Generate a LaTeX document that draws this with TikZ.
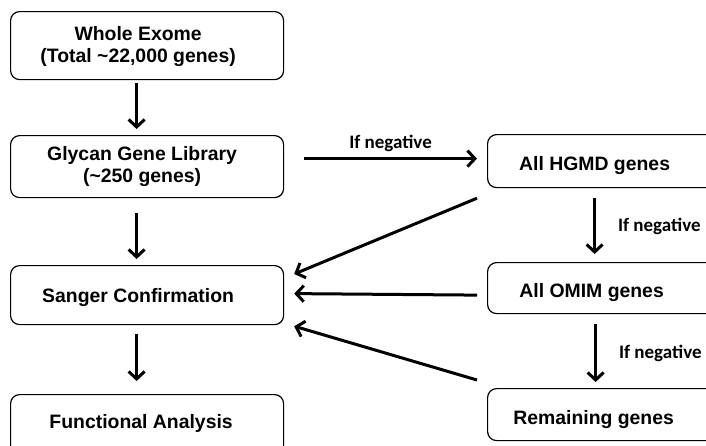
\documentclass[tikz,border=0pt]{standalone}
\usepackage{fontspec}
\setmainfont{Liberation Sans}
\newfontfamily\labelfont{Carlito}
\usetikzlibrary{arrows.meta}
\begin{document}
\begin{tikzpicture}[x=1pt,y=-1pt,
  box/.style={draw=black, line width=1.2pt, rounded corners=9pt, anchor=north west, inner sep=0pt},
  lbox/.style={box, minimum width=273pt},
  rbox/.style={box, minimum width=240pt},
  txt/.style={font=\fontsize{19.4}{22.5}\selectfont\bfseries, align=center, inner sep=0pt, text depth=0pt},
  arr/.style={line width=3pt, -{Straight Barb[length=7.5pt,width=16pt]}},
  neg/.style={font=\labelfont\fontsize{19}{22}\selectfont\bfseries, inner sep=0pt}]
\useasboundingbox (0,0) rectangle (706,445);
\clip (0,0) rectangle (706,445);

% left column
\node[lbox, minimum height=68pt, label={[txt, xshift=-9pt, yshift=1pt]center:{Whole Exome\\(Total \textasciitilde22,000 genes)}}] (we) at (10,11) {};
\node[lbox, minimum height=62pt, label={[txt, xshift=-5pt, yshift=2pt]center:{Glycan Gene Library\\(\textasciitilde250 genes)}}] (gl) at (10,135) {};
\node[lbox, minimum height=59pt, label={[txt, xshift=-9pt, yshift=0pt]center:{Sanger Confirmation}}] (sc) at (10,265) {};
\node[lbox, minimum height=60pt, label={[txt, xshift=-6pt, yshift=3pt]center:{Functional Analysis}}] (fa) at (10,394) {};

% right column
\node[rbox, minimum height=53pt, label={[txt, xshift=-13pt, yshift=-2pt]center:{All HGMD genes}}] (hgmd) at (487,134) {};
\node[rbox, minimum height=51pt, label={[txt, xshift=-16pt, yshift=-2pt]center:{All OMIM genes}}] (omim) at (487,262) {};
\node[rbox, minimum height=52pt, label={[txt, xshift=-14pt, yshift=-3pt]center:{Remaining genes}}] (rg) at (487,388) {};

% main chain
\draw[arr] ([xshift=-10.5pt,yshift=-3pt]we.south) -- ([xshift=-10.5pt,yshift=6pt]gl.north);
\draw[arr] ([xshift=-10.5pt,yshift=-15pt]gl.south) -- ([xshift=-10.5pt,yshift=6pt]sc.north);
\draw[arr] ([xshift=-10.5pt,yshift=-9pt]sc.south) -- ([xshift=-10.5pt,yshift=13pt]fa.north);

% fallback chain
\draw[arr] ([xshift=20pt,yshift=2.5pt]gl.east |- hgmd.west) -- ([xshift=-10pt,yshift=2.5pt]hgmd.west)
  node[neg, midway, above=5pt] (n1) {If negative};
\draw[arr] ([xshift=-13pt,yshift=-10pt]hgmd.south) -- ([xshift=-13pt,yshift=8pt]omim.north)
  node[neg, midway, right=22pt] (n2) {If negative};
\draw[arr] ([xshift=-12pt,yshift=-10pt]omim.south) -- ([xshift=-12pt,yshift=6pt]rg.north)
  node[neg, midway, right=22pt] (n3) {If negative};

% positive results back to confirmation
\draw[arr] ([xshift=-10pt,yshift=-10pt]hgmd.south west) -- ([xshift=10pt,yshift=-9pt]sc.north east);
\draw[arr] ([xshift=-10pt]omim.west |- sc.east) -- ([xshift=10pt,yshift=1.5pt]sc.east);
\draw[arr] ([xshift=-10pt,yshift=8pt]rg.north west) -- ([xshift=10pt,yshift=-1pt]sc.south east);
\end{tikzpicture}
\end{document}
